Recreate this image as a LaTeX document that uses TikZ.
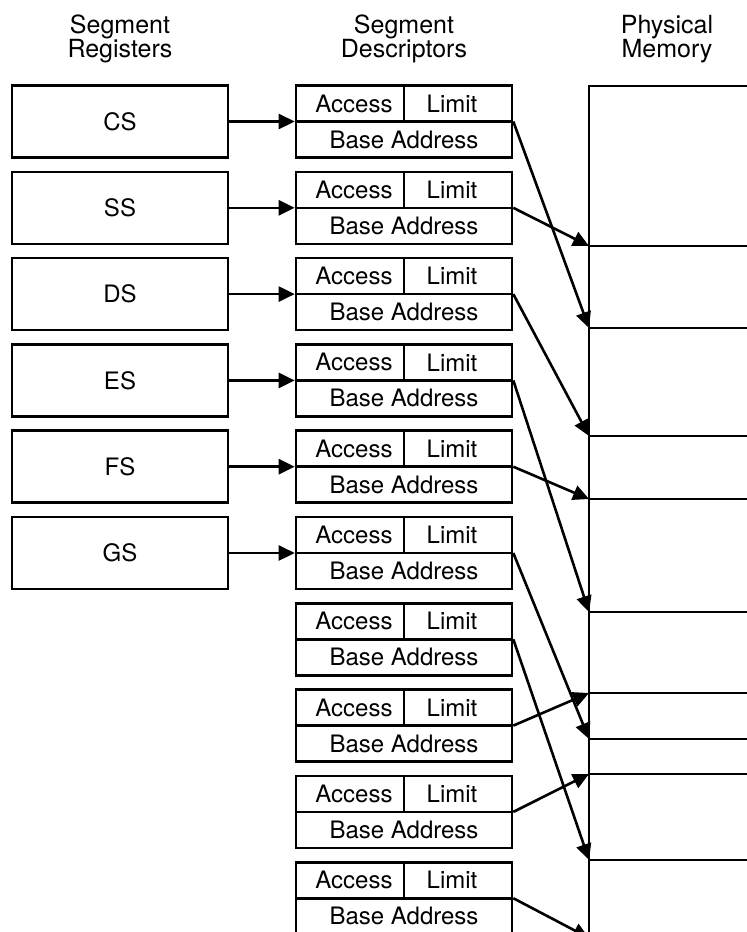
\documentclass[tikz,border=0pt]{standalone}
\usepackage{fontspec}
\setmainfont{TeX Gyre Heros}
\usetikzlibrary{arrows.meta,positioning}
\tikzset{
  regbox/.style  = {draw, line width=1.3pt, minimum width=108pt, minimum height=36pt,
                    inner sep=0pt, font=\fontsize{12}{14}\selectfont},
  descbox/.style = {draw, line width=1.3pt, minimum width=108pt, minimum height=36pt,
                    inner sep=0pt},
  field/.style   = {inner sep=0pt, font=\fontsize{12}{14}\selectfont},
  head/.style    = {align=center, font=\fontsize{12.5}{12}\selectfont},
  wire/.style    = {line width=1.3pt},
  ptr/.style     = {-{Triangle[length=8pt,width=7.5pt]}, line width=1.3pt},
}
\begin{document}
\begin{tikzpicture}[x=0.5pt,y=-0.5pt]
  \useasboundingbox (0,0) rectangle (747,932);
  \clip (0,0) rectangle (747,932);
  % column headings
  \node[head] (hreg)  at (120,39) {Segment\\Registers};
  \node[head] (hdesc) at (404,39) {Segment\\Descriptors};
  \node[head] (hmem)  at (667,39) {Physical\\Memory};
  % descriptor table
  \foreach \i in {1,...,10} {
    \node[descbox] (d\i) at (404,{121.5+86.3*(\i-1)}) {};
    \draw[wire] (d\i.west) -- (d\i.east);
    \draw[wire] (d\i.north) -- (d\i.center);
    \node[field] (acc\i) at ([xshift=-25pt,yshift=9pt]d\i.center) {Access};
    \node[field] (lim\i) at ([xshift=24pt,yshift=9pt]d\i.center) {Limit};
    \node[field] (base\i) at ([yshift=-9pt]d\i.center) {Base Address};
  }
  % segment registers
  \foreach \r [count=\i] in {CS,SS,DS,ES,FS,GS} {
    \node[regbox] (\r) at (120,{121.5+86.3*(\i-1)}) {\r};
    \draw[ptr] (\r.east) -- (d\i.west);
  }
  % physical memory
  \coordinate (mtop) at (589,86);
  \coordinate (mbot) at (589,945);
  \draw[wire] (747,86) -- (mtop) -- (mbot);
  \foreach \y [count=\k] in {246,328,436,499,612,693,739,774,860} {
    \coordinate (m\k) at (589,\y);
    \draw[wire] (m\k) -- ++(158,0);
  }
  \coordinate (m10) at (589,938);
  % descriptors point into memory
  \foreach \d/\m in {1/2,2/1,3/3,4/5,5/4,6/7,7/9,8/6,9/8,10/10}
    \draw[ptr] (d\d.east) -- (m\m);
\end{tikzpicture}
\end{document}
